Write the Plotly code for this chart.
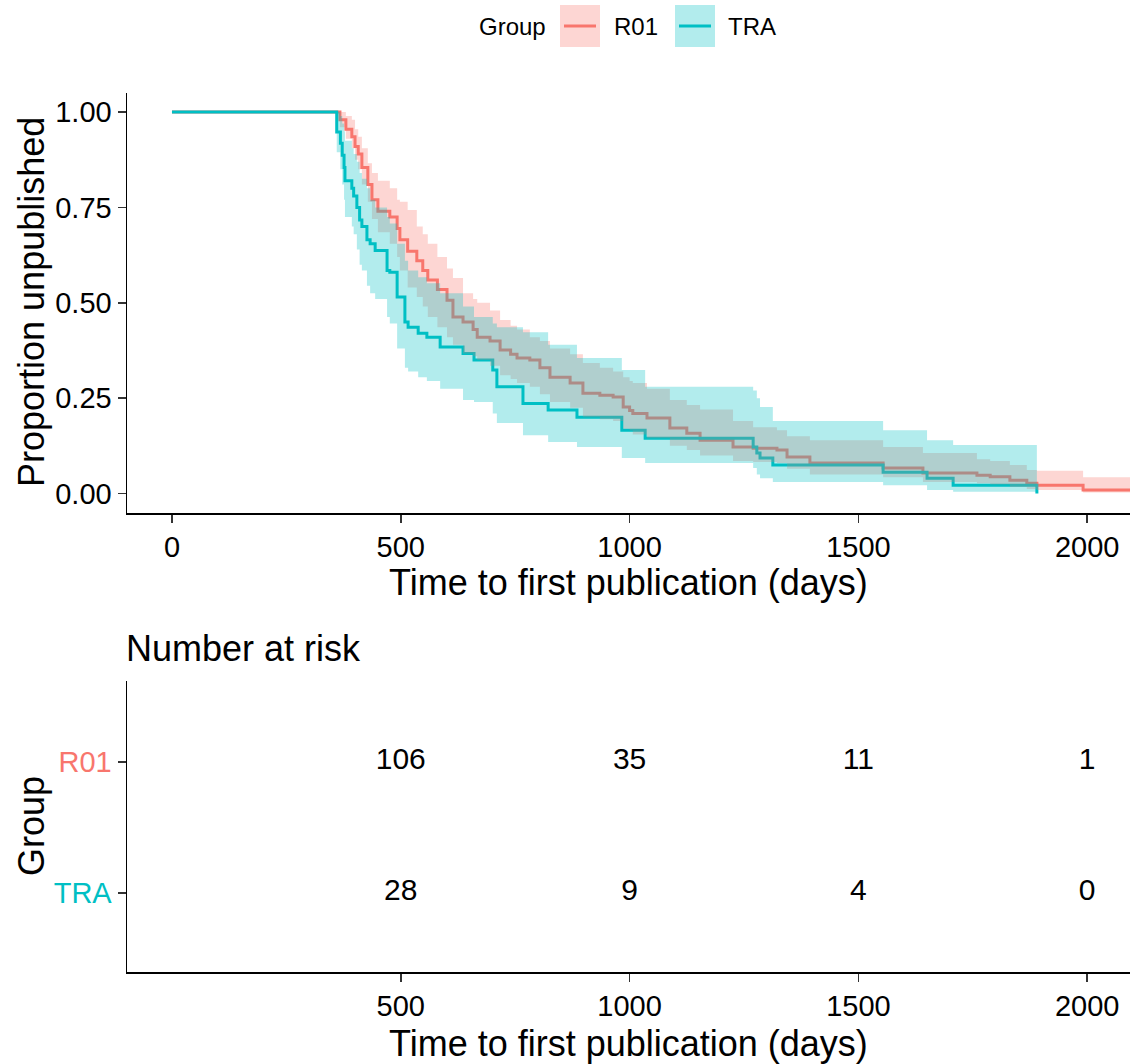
import plotly.graph_objects as go

# ---------------- data ----------------
groups = ["R01", "TRA"]

r01_time = [0, 367, 380, 393, 400, 407, 415, 428, 437, 450,
            476, 492, 498, 515, 535, 548, 559, 580, 601, 614,
            636, 658, 667, 695, 717, 740, 754, 782, 804, 826,
            870, 898, 935, 964, 986, 1000, 1007, 1038, 1088, 1125,
            1154, 1226, 1270, 1322, 1344, 1394, 1554, 1641, 1759, 1788,
            1831, 1868, 1890, 1991, 2150]
r01_surv = [1, .98, .955, .935, .91, .89, .855, .81, .77, .74,
            .725, .695, .665, .635, .61, .585, .56, .535, .507, .463,
            .45, .43, .41, .40, .376, .365, .355, .35, .33, .305,
            .29, .263, .258, .253, .227, .218, .21, .198, .172, .158,
            .14, .122, .119, .114, .096, .08, .067, .054, .048, .044,
            .035, .027, .022, .009, .009]
r01_lower = [1, .96, .93, .905, .875, .85, .81, .765, .72, .685,
             .655, .62, .585, .54, .515, .49, .463, .436, .41, .39,
             .367, .36, .35, .335, .31, .30, .29, .28, .26, .24,
             .225, .20, .195, .19, .17, .165, .155, .145, .125, .114,
             .10, .085, .083, .08, .065, .05, .043, .03, .027, .024,
             .017, .012, .009, .003, .003]
r01_upper = [1, 1, .99, .98, .955, .935, .905, .866, .84, .82,
             .80, .77, .765, .743, .70, .68, .655, .62, .59, .565,
             .525, .51, .50, .48, .455, .44, .43, .41, .40, .38,
             .365, .342, .33, .32, .305, .295, .29, .275, .245, .232,
             .22, .19, .174, .166, .15, .14, .122, .106, .09, .085,
             .075, .062, .06, .043, .043]

tra_time = [0, 360, 368, 372, 376, 378, 393, 397, 404, 410,
            415, 426, 433, 444, 470, 476, 492, 509, 516, 538,
            557, 586, 636, 660, 701, 710, 767, 822, 885, 983,
            1034, 1270, 1278, 1285, 1313, 1554, 1650, 1707, 1890]
tra_surv = [1, .948, .918, .887, .855, .82, .80, .78, .75, .717,
            .70, .665, .655, .637, .585, .58, .515, .45, .436, .42,
            .41, .384, .367, .35, .324, .28, .236, .219, .20, .166,
            .145, .122, .106, .093, .075, .056, .04, .022, 0.0]
tra_lower = [1, .895, .85, .81, .77, .725, .70, .68, .64, .60,
             .585, .545, .525, .51, .463, .446, .38, .33, .32, .305,
             .295, .275, .245, .24, .21, .185, .153, .135, .122, .093,
             .08, .067, .05, .04, .03, .022, .009, .005, .005]
tra_upper = [1, 1.0, .99, .97, .95, .925, .905, .89, .87, .84,
             .825, .80, .77, .75, .725, .708, .655, .61, .585, .567,
             .551, .525, .49, .463, .446, .436, .423, .39, .355, .324,
             .28, .27, .25, .227, .19, .166, .14, .127, .127]

risk_times = [500, 1000, 1500, 2000]
risk_r01 = [106, 35, 11, 1]
risk_tra = [28, 9, 4, 0]

x_ticks_top = [0, 500, 1000, 1500, 2000]
y_ticks_top = [0, 0.25, 0.5, 0.75, 1.0]
y_ticklabels_top = ["0.00", "0.25", "0.50", "0.75", "1.00"]

# ---------------- style ----------------
RED = "#F8766D"
CYAN = "#00BFC4"
RED_FILL = "rgba(248,118,109,0.3)"
CYAN_FILL = "rgba(0,191,196,0.3)"
FONT = "Liberation Sans, Arial, sans-serif"
W, H = 1130, 1064
L = 127


def px_x(p):
    return (p - L) / (W - L)


def px_y(p):
    return (H - p) / H


fig = go.Figure()

# survival lines (drawn under the ribbons, as in ggsurvplot)
fig.add_trace(go.Scatter(x=r01_time, y=r01_surv, mode="lines", line=dict(color=RED, width=3, shape="hv"),
                         xaxis="x", yaxis="y", showlegend=False, hoverinfo="skip"))
fig.add_trace(go.Scatter(x=tra_time, y=tra_surv, mode="lines", line=dict(color=CYAN, width=3, shape="hv"),
                         xaxis="x", yaxis="y", showlegend=False, hoverinfo="skip"))

# confidence ribbons
for t, lo, hi, fc in [(r01_time, r01_lower, r01_upper, RED_FILL), (tra_time, tra_lower, tra_upper, CYAN_FILL)]:
    fig.add_trace(go.Scatter(x=t, y=lo, mode="lines", line=dict(width=0, shape="hv", color="rgba(0,0,0,0)"),
                             xaxis="x", yaxis="y", showlegend=False, hoverinfo="skip"))
    fig.add_trace(go.Scatter(x=t, y=hi, mode="lines", line=dict(width=0, shape="hv", color="rgba(0,0,0,0)"),
                             fill="tonexty", fillcolor=fc,
                             xaxis="x", yaxis="y", showlegend=False, hoverinfo="skip"))

# risk table
fig.add_trace(go.Scatter(x=risk_times, y=[2] * len(risk_times), mode="text",
                         text=[str(v) for v in risk_r01], textfont=dict(size=30, color="black", family=FONT),
                         xaxis="x2", yaxis="y2", showlegend=False, hoverinfo="skip"))
fig.add_trace(go.Scatter(x=risk_times, y=[1] * len(risk_times), mode="text",
                         text=[str(v) for v in risk_tra], textfont=dict(size=30, color="black", family=FONT),
                         xaxis="x2", yaxis="y2", showlegend=False, hoverinfo="skip"))

axis_common = dict(showline=True, linecolor="black", linewidth=1.5, ticks="outside", ticklen=8,
                   tickwidth=1.5, tickcolor="#333333", showgrid=False, zeroline=False,
                   tickfont=dict(size=29, color="black", family=FONT))

fig.update_layout(
    width=W, height=H,
    margin=dict(l=L, r=0, t=0, b=0),
    paper_bgcolor="white", plot_bgcolor="white",
    font=dict(family=FONT, color="black"),
    xaxis=dict(domain=[0, 1], range=[-98.3, 2093.5], tickvals=x_ticks_top, anchor="y", **axis_common),
    yaxis=dict(domain=[px_y(513), px_y(93)], range=[-0.051, 1.05], tickvals=y_ticks_top,
               ticktext=y_ticklabels_top, anchor="x", **axis_common),
    xaxis2=dict(domain=[0, 1], range=[-98.3, 2093.5], tickvals=risk_times, anchor="y2", **axis_common),
    yaxis2=dict(domain=[px_y(972), px_y(681)], range=[0.397, 2.618], tickvals=[1, 2],
                ticktext=['<span style="color:%s">%s</span>' % (CYAN, groups[1]),
                          '<span style="color:%s">%s</span>' % (RED, groups[0])],
                anchor="x2", **axis_common),
)

annotations = [
    dict(text="Time to first publication (days)", x=0.5, y=px_y(582), xref="paper", yref="paper",
         showarrow=False, font=dict(size=36, family=FONT, color="black"), xanchor="center", yanchor="middle"),
    dict(text="Time to first publication (days)", x=0.5, y=px_y(1043), xref="paper", yref="paper",
         showarrow=False, font=dict(size=36, family=FONT, color="black"), xanchor="center", yanchor="middle"),
    dict(text="Proportion unpublished", x=px_x(31), y=px_y(302), xref="paper", yref="paper", textangle=-90,
         showarrow=False, font=dict(size=36, family=FONT, color="black"), xanchor="center", yanchor="middle"),
    dict(text="Group", x=px_x(31), y=px_y(826), xref="paper", yref="paper", textangle=-90,
         showarrow=False, font=dict(size=36, family=FONT, color="black"), xanchor="center", yanchor="middle"),
    dict(text="Number at risk", x=px_x(124), y=px_y(648), xref="paper", yref="paper",
         showarrow=False, font=dict(size=36, family=FONT, color="black"), xanchor="left", yanchor="middle"),
    # legend
    dict(text="Group", x=px_x(548), y=px_y(27), xref="paper", yref="paper",
         showarrow=False, font=dict(size=24, family=FONT, color="black"), xanchor="right", yanchor="middle"),
    dict(text=groups[0], x=px_x(612), y=px_y(27), xref="paper", yref="paper",
         showarrow=False, font=dict(size=24, family=FONT, color="black"), xanchor="left", yanchor="middle"),
    dict(text=groups[1], x=px_x(726), y=px_y(27), xref="paper", yref="paper",
         showarrow=False, font=dict(size=24, family=FONT, color="black"), xanchor="left", yanchor="middle"),
]
fig.update_layout(annotations=annotations)

shapes = [
    dict(type="rect", xref="paper", yref="paper", x0=px_x(560), x1=px_x(600), y0=px_y(47), y1=px_y(5),
         fillcolor=RED_FILL, line=dict(width=0)),
    dict(type="line", xref="paper", yref="paper", x0=px_x(564), x1=px_x(596), y0=px_y(26), y1=px_y(26),
         line=dict(color=RED, width=3)),
    dict(type="rect", xref="paper", yref="paper", x0=px_x(675), x1=px_x(715), y0=px_y(47), y1=px_y(5),
         fillcolor=CYAN_FILL, line=dict(width=0)),
    dict(type="line", xref="paper", yref="paper", x0=px_x(679), x1=px_x(711), y0=px_y(26), y1=px_y(26),
         line=dict(color=CYAN, width=3)),
]
fig.update_layout(shapes=shapes)

fig.write_html("out.html", config={"displayModeBar": False, "staticPlot": True})

# remove the default 8px page margin so the figure fills the window exactly
with open("out.html", "r", encoding="utf-8") as f:
    html = f.read()
html = html.replace("<head>", "<head><style>html,body{margin:0;padding:0;overflow:hidden;}</style>", 1)
with open("out.html", "w", encoding="utf-8") as f:
    f.write(html)
